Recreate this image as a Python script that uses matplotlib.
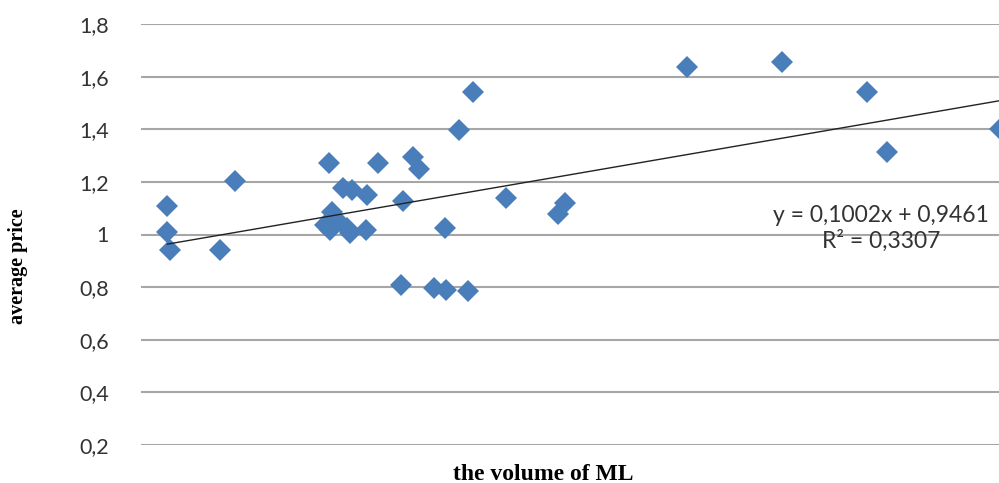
import numpy as np
import matplotlib
matplotlib.use('Agg')
import matplotlib.pyplot as plt
from matplotlib.ticker import FuncFormatter

# volume of ML (x) and average price (y)
volume = [0.172, 0.172, 0.190, 0.516, 0.614, 1.231, 1.551, 1.780, 1.819, 1.318,
          1.377, 1.475, 1.714, 1.246, 1.203, 1.235, 1.344, 1.366, 1.471, 1.279,
          2.168, 2.076, 2.386, 1.987, 2.771, 2.727, 1.697, 1.915, 1.992, 2.139,
          3.567, 4.188, 4.747, 4.878, 5.614]
price = [1.109, 1.011, 0.941, 0.941, 1.203, 1.273, 1.271, 1.296, 1.248, 1.176,
         1.169, 1.150, 1.127, 1.087, 1.036, 1.017, 1.024, 1.005, 1.017, 1.055,
         1.543, 1.397, 1.138, 1.024, 1.119, 1.077, 0.808, 0.796, 0.789, 0.786,
         1.636, 1.657, 1.543, 1.312, 1.400]

slope, intercept = 0.1002, 0.9461
r2 = 0.3307
y_ticks = [0.2, 0.4, 0.6, 0.8, 1.0, 1.2, 1.4, 1.6, 1.8]

fig = plt.figure(figsize=(9.99, 4.83), dpi=100)
ax = fig.add_axes([141 / 999, 1 - 445 / 483, 1 - 141 / 999, (445 - 24) / 483])

ax.plot(volume, price, ls='none', marker='D', ms=11.5, color='#4A7EBB',
        markeredgewidth=0, zorder=3)

# linear trendline over the data range
xs = np.array([min(volume), max(volume)])
ax.plot(xs, slope * xs + intercept, color='#222222', lw=1, zorder=4)

ax.set_xlim(0, 5.608)
ax.set_ylim(0.2, 1.8)
ax.set_yticks(y_ticks)
ax.yaxis.set_major_formatter(FuncFormatter(
    lambda v, p: ('%g' % round(v, 1)).replace('.', ',')))
ax.set_xticks([])
ax.grid(axis='y', color='#A6A6A6', lw=1.5)
ax.set_axisbelow(True)
for s in ax.spines.values():
    s.set_visible(False)
ax.tick_params(axis='y', length=0, pad=23, labelsize=15.5, labelcolor='#333333')
for lab in ax.get_yticklabels():
    lab.set_fontfamily('Lato')

fig.text(881 / 999, 1 - 228 / 483,
         'y = 0,1002x + 0,9461\nR² = 0,3307', ha='center', va='center',
         fontsize=16.5, family='Lato', color='#333333', linespacing=1.2)

fig.text(18.5 / 999, 1 - 266 / 483, 'average price', rotation=90,
         ha='center', va='center', fontsize=14.5, fontweight='bold',
         family='Liberation Serif')
fig.text(543 / 999, 1 - 474 / 483, 'the volume of ML', ha='center',
         va='center', fontsize=17, fontweight='bold', family='Liberation Serif')

fig.savefig('out.png', dpi=100)
